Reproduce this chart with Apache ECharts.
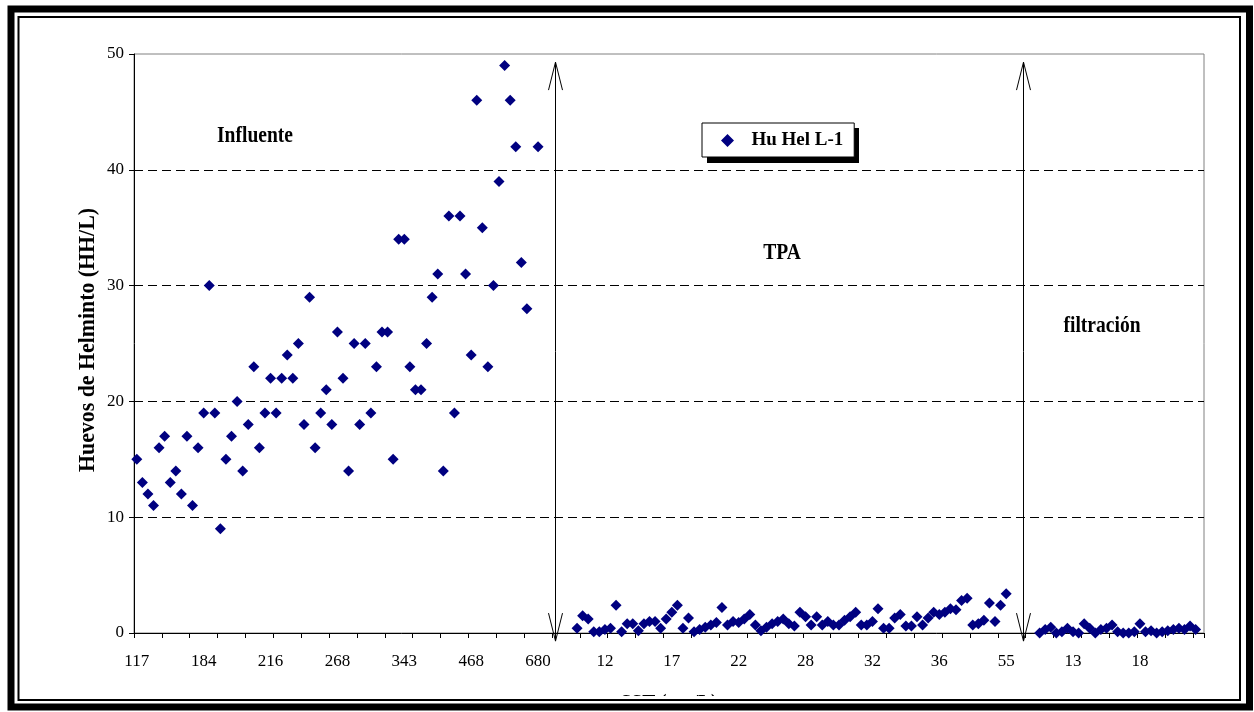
<!DOCTYPE html>
<html>
<head>
<meta charset="utf-8">
<script src="https://cdn.jsdelivr.net/npm/echarts@6/dist/echarts.min.js"></script>
<style>
html,body{margin:0;padding:0;background:#fff;}
#c{width:1254px;height:712px;}
</style>
</head>
<body>
<div id="c"></div>
<script>
// ---- data ----
const tickLabels = ['117','184','216','268','343','468','680','12','17','22','28','32','36','55','13','18'];
const seriesName = 'Hu Hel L-1';
const influente = [15,13,12,11,16,17,13,14,12,17,11,16,19,30,19,9,15,17,20,14,18,23,16,19,22,19,22,24,22,25,18,29,16,19,21,18,26,22,14,25,18,25,19,23,26,26,15,34,34,23,21,21,25,29,31,14,36,19,36,31,24,46,35,23,30,39,49,46,42,32,28,null,42];
const vacio1 = [null,null,null,null,null,null];
const tpa = [0.4,1.5,1.2,0.1,0.1,0.3,0.4,2.4,0.1,0.8,0.8,0.2,0.8,1.0,1.0,0.4,1.2,1.8,2.4,0.4,1.3,0.1,0.3,0.5,0.7,0.9,2.2,0.7,1.0,0.9,1.2,1.6,0.7,0.2,0.5,0.8,1.0,1.2,0.8,0.6,1.8,1.4,0.7,1.4,0.7,1.0,0.7,0.7,1.1,1.4,1.8,0.7,0.7,1.0,2.1,0.4,0.4,1.3,1.6,0.6,0.6,1.4,0.7,1.3,1.8,1.6,1.8,2.1,2.0,2.8,3.0,0.7,0.8,1.1,2.6,1.0,2.4,3.4];
const vacio2 = [null,null,null,null,null];
const filtracion = [0.0,0.3,0.5,0.0,0.1,0.4,0.1,0.0,0.8,0.4,0.0,0.3,0.4,0.7,0.1,0.0,0.0,0.1,0.8,0.1,0.2,0.0,0.1,0.2,0.3,0.4,0.3,0.6,0.3];
const vacio3 = [null];
const phaseNames = ['Influente','TPA','filtración'];
const yTitle = 'Huevos de Helminto (HH/L)';
const xTitle = 'SST (mg/L)';

// ---- build ----
const values = influente.concat(vacio1, tpa, vacio2, filtracion, vacio3);
const categories = values.map((v, i) => (i % 12 === 0 ? (tickLabels[i / 12] || '') : ''));
const points = [];
values.forEach((v, i) => { if (v !== null) points.push([i, v]); });
const boundaryIdx = [influente.length + vacio1.length - 4, influente.length + vacio1.length + tpa.length + vacio2.length - 3];

const FONT = "'Liberation Serif','Times New Roman',serif";
const chart = echarts.init(document.getElementById('c'), null, {renderer: 'canvas'});

// diamond icon with empty space on its right (invisible degenerate segment widens the box)
const legendIcon = 'path://M10,0L20,10L10,20L0,10Z M39,10L39.01,10';

chart.setOption({
  backgroundColor: '#fff',
  animation: false,
  grid: {left: 134, top: 54, right: 50, bottom: 79, show: true, borderColor: '#808080', borderWidth: 1, backgroundColor: 'transparent'},
  legend: {
    data: [{name: seriesName, icon: legendIcon}],
    left: 702, top: 123,
    padding: [8, 11, 7, 19],
    itemWidth: 25.4, itemHeight: 13,
    backgroundColor: '#fff', borderColor: '#000', borderWidth: 1,
    z: 10,
    textStyle: {fontFamily: FONT, fontWeight: 'bold', fontSize: 19, color: '#000'}
  },
  xAxis: {
    type: 'category',
    data: categories,
    boundaryGap: true,
    axisLine: {lineStyle: {color: '#000', width: 1}},
    axisTick: {show: true, interval: 4, length: 5, lineStyle: {color: '#000'}},
    axisLabel: {interval: 11, margin: 20, fontFamily: FONT, fontSize: 17, color: '#000'},
    splitLine: {show: false}
  },
  yAxis: {
    type: 'value', min: 0, max: 50, interval: 10,
    axisLine: {show: true, lineStyle: {color: '#000', width: 1}},
    axisTick: {show: true, length: 5, lineStyle: {color: '#000'}},
    axisLabel: {margin: 10, fontFamily: FONT, fontSize: 17, color: '#000'},
    splitLine: {show: true, showMinLine: false, showMaxLine: false, lineStyle: {color: '#000', width: 1, type: [9, 5]}}
  },
  series: [{
    name: seriesName,
    type: 'scatter',
    data: points,
    symbol: 'diamond',
    symbolSize: 11,
    itemStyle: {color: '#000080', opacity: 1},
    z: 5
  }]
});

function buildGraphics() {
  const els = [];
  // legend shadow
  els.push({type: 'rect', shape: {x: 707, y: 128, width: 152, height: 35}, style: {fill: '#000'}, z: 9});
  // arrows
  boundaryIdx.forEach(idx => {
    const top = chart.convertToPixel({gridIndex: 0}, [idx, 49.3]);
    const bot = chart.convertToPixel({gridIndex: 0}, [idx, -0.7]);
    const x = Math.round(top[0]) + 0.5;
    const ls = {stroke: '#000', lineWidth: 1, fill: null};
    els.push({type: 'polyline', shape: {points: [[x, top[1]], [x, bot[1]]]}, style: ls, z: 20});
    els.push({type: 'polyline', shape: {points: [[x - 7, top[1] + 28], [x, top[1]], [x + 7, top[1] + 28]]}, style: ls, z: 20});
    els.push({type: 'polyline', shape: {points: [[x - 7, bot[1] - 28], [x, bot[1]], [x + 7, bot[1] - 28]]}, style: ls, z: 20});
  });
  const tfont = 'bold 23px ' + FONT;
  const annot = [[phaseNames[0], 255, 136], [phaseNames[1], 782, 253], [phaseNames[2], 1102, 326]];
  annot.forEach(a => {
    els.push({type: 'text', x: a[1], y: a[2], scaleX: 0.85, z: 20,
      style: {text: a[0], font: tfont, fill: '#000', textAlign: 'center', textVerticalAlign: 'middle'}});
  });
  // y axis title
  els.push({type: 'text', x: 88, y: 340, rotation: Math.PI / 2, scaleX: 0.95, z: 20,
    style: {text: yTitle, font: tfont, fill: '#000', textAlign: 'center', textVerticalAlign: 'middle'}});
  // x axis title (mostly hidden, as in the original)
  els.push({type: 'text', x: 669, y: 704, scaleX: 0.85, z: 20,
    style: {text: xTitle, font: tfont, fill: '#000', textAlign: 'center', textVerticalAlign: 'middle'}});
  els.push({type: 'rect', shape: {x: 20, y: 696, width: 1219, height: 16}, style: {fill: '#fff'}, z: 21});
  // frame
  els.push({type: 'rect', shape: {x: 11, y: 9, width: 1238.5, height: 698}, style: {fill: null, stroke: '#000', lineWidth: 7}, z: 22});
  els.push({type: 'rect', shape: {x: 18.5, y: 17, width: 1221.5, height: 683}, style: {fill: null, stroke: '#000', lineWidth: 2}, z: 22});
  chart.setOption({graphic: {elements: els}});
}
buildGraphics();
</script>
</body>
</html>
